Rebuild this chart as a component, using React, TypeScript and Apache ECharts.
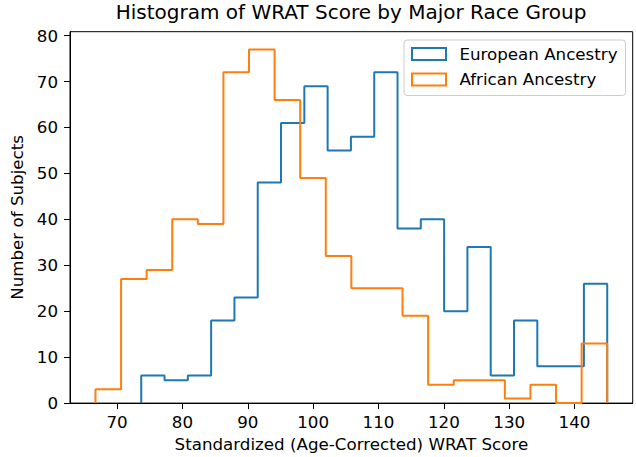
import React, { useEffect, useRef } from "react";
import * as echarts from "echarts";

// Histogram bin counts (20 bins each)
const europeanCounts = [6, 5, 6, 18, 23, 48, 61, 69, 55, 58, 72, 38, 40, 20, 34, 6, 18, 8, 8, 26];
const africanCounts = [3, 27, 29, 40, 39, 72, 77, 66, 49, 32, 25, 25, 19, 4, 5, 5, 1, 4, 0, 13];
// Bin ranges (min score, max score)
const europeanRange = [73.7, 145.0];
const africanRange = [66.7, 145.0];
const seriesNames = ["European Ancestry", "African Ancestry"];
const xTicks = [70, 80, 90, 100, 110, 120, 130, 140];
const yTicks = [0, 10, 20, 30, 40, 50, 60, 70, 80];

const FONT = "DejaVu Sans";
const FS = 16.7;

function stepPoints(counts: number[], range: number[]) {
  const n = counts.length;
  const w = (range[1] - range[0]) / n;
  const pts: number[][] = [[range[0], 0]];
  for (let i = 0; i < n; i++) {
    const a = range[0] + i * w;
    const b = range[0] + (i + 1) * w;
    pts.push([a, counts[i]]);
    pts.push([b, counts[i]]);
  }
  pts.push([range[1], 0]);
  return pts;
}

export default function App() {
  const ref = useRef<HTMLDivElement>(null);
  useEffect(() => {
    if (!ref.current) return;
    const chart = echarts.init(ref.current, null, { renderer: "svg" });
    const colors = ["#1f77b4", "#ff7f0e"];
    chart.setOption({
      animation: false,
      backgroundColor: "#ffffff",
      title: {
        text: "Histogram of WRAT Score by Major Race Group",
        left: 351,
        textAlign: "center",
        top: 2,
        padding: 0,
        textStyle: { fontFamily: FONT, fontSize: 20, fontWeight: "normal", color: "#000" },
      },
      legend: {
        orient: "vertical",
        left: 404,
        top: 40,
        padding: [5.6, 7.9, 7.6, 7],
        itemWidth: 34,
        itemHeight: 12,
        itemGap: 8.3,
        backgroundColor: "rgba(255,255,255,0.8)",
        borderColor: "#cccccc",
        borderWidth: 1,
        borderRadius: 3,
        textStyle: { fontFamily: FONT, fontSize: FS, color: "#000", padding: [0, 0, 0, 8.4] },
        data: seriesNames.map((name, i) => ({
          name,
          icon: "rect",
          itemStyle: { color: "transparent", borderColor: colors[i], borderWidth: 2 },
        })),
      },
      grid: {
        left: 70,
        right: 3.3,
        top: 31.7,
        bottom: 52,
        show: true,
        borderColor: "#000",
        borderWidth: 1,
        backgroundColor: "transparent",
      },
      xAxis: {
        type: "value",
        min: 62.8,
        max: 148.9,
        name: "Standardized (Age-Corrected) WRAT Score",
        nameLocation: "middle",
        nameGap: 31,
        nameTextStyle: { fontFamily: FONT, fontSize: FS, color: "#000" },
        axisLine: { show: true, lineStyle: { color: "#000", width: 1 } },
        axisTick: { show: true, length: 6, lineStyle: { color: "#000", width: 1 }, customValues: xTicks },
        axisLabel: { fontFamily: FONT, fontSize: FS, color: "#000", margin: 10, customValues: xTicks },
        splitLine: { show: false },
      },
      yAxis: {
        type: "value",
        min: 0,
        max: 80.85,
        name: "Number of Subjects",
        nameLocation: "middle",
        nameGap: 43,
        nameTextStyle: { fontFamily: FONT, fontSize: FS, color: "#000" },
        axisLine: { show: true, lineStyle: { color: "#000", width: 1 } },
        axisTick: { show: true, length: 6, lineStyle: { color: "#000", width: 1 }, customValues: yTicks },
        axisLabel: { fontFamily: FONT, fontSize: FS, color: "#000", margin: 12, customValues: yTicks },
        splitLine: { show: false },
      },
      series: [
        {
          name: seriesNames[0],
          type: "line",
          data: stepPoints(europeanCounts, europeanRange),
          symbol: "none",
          color: colors[0],
          lineStyle: { color: colors[0], width: 2 },
          itemStyle: { color: "transparent", borderColor: colors[0], borderWidth: 2 },
          z: 2,
        },
        {
          name: seriesNames[1],
          type: "line",
          data: stepPoints(africanCounts, africanRange),
          symbol: "none",
          color: colors[1],
          lineStyle: { color: colors[1], width: 2 },
          itemStyle: { color: "transparent", borderColor: colors[1], borderWidth: 2 },
          z: 3,
        },
      ],
    });
    return () => chart.dispose();
  }, []);
  return (
    <div
      ref={ref}
      style={{ position: "fixed", left: 0, top: 0, width: 636, height: 457, background: "#fff" }}
    />
  );
}
